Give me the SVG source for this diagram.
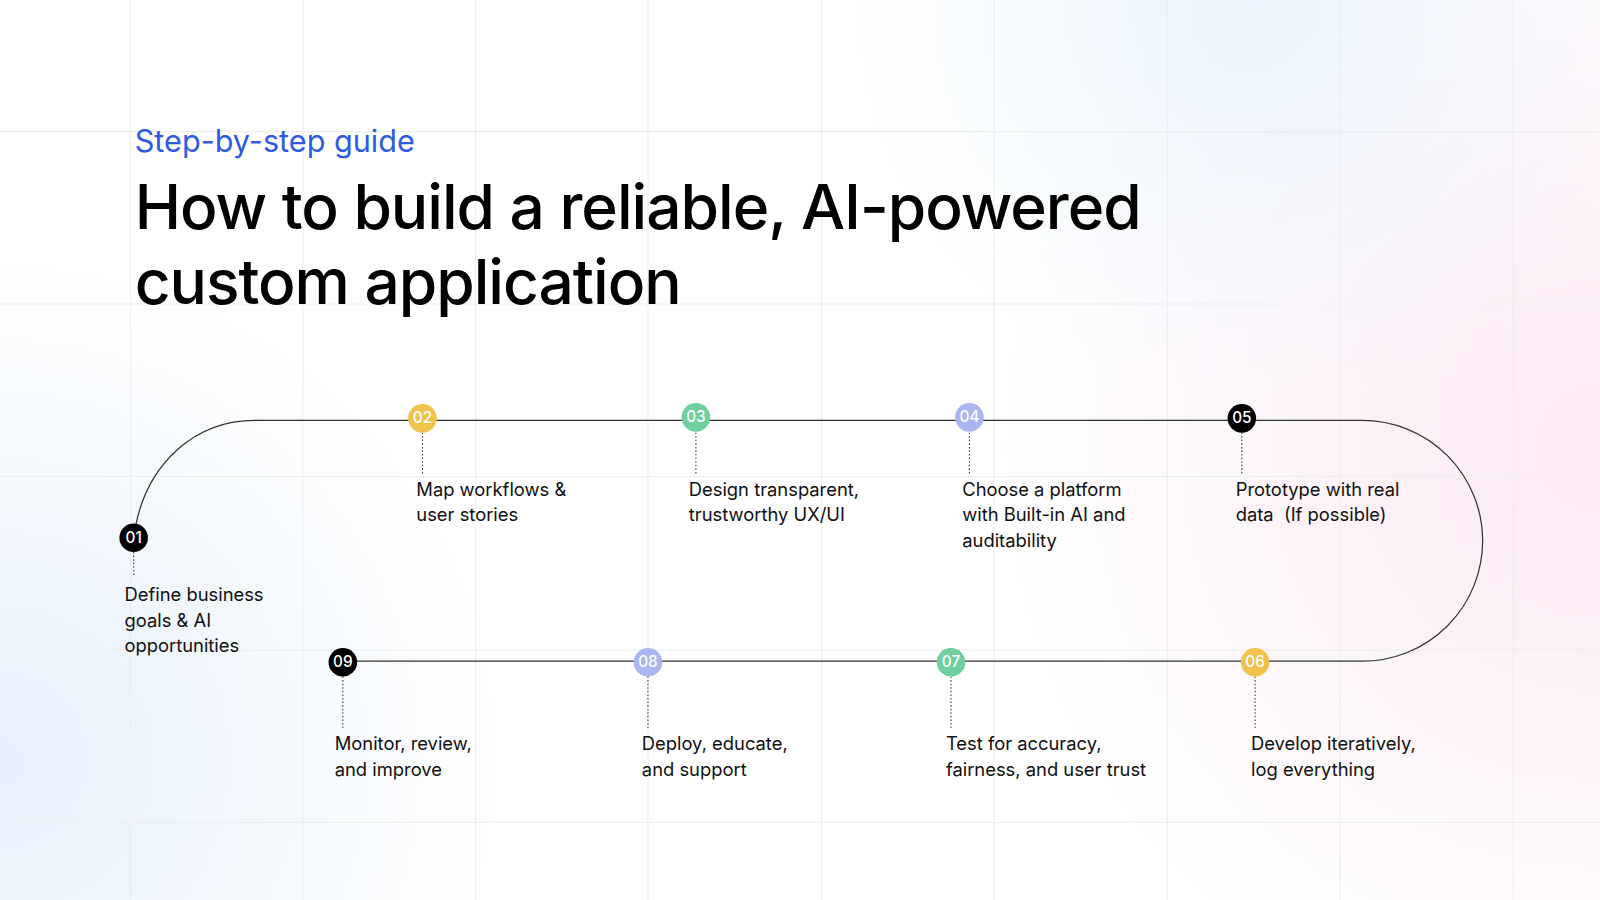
<svg xmlns="http://www.w3.org/2000/svg" width="1600" height="900" viewBox="0 0 1600 900">
<defs>
<radialGradient id="gPink" cx="1600" cy="450" r="600" gradientUnits="userSpaceOnUse"><stop offset="0" stop-color="#fbe9f3"/><stop offset="1" stop-color="#fbe9f3" stop-opacity="0"/></radialGradient>
<radialGradient id="gBlue" cx="0" cy="760" r="500" gradientUnits="userSpaceOnUse"><stop offset="0" stop-color="#e6f0fb"/><stop offset="1" stop-color="#e6f0fb" stop-opacity="0"/></radialGradient>
<radialGradient id="gBlue2" cx="1250" cy="0" r="400" gradientUnits="userSpaceOnUse"><stop offset="0" stop-color="#eaf4fc"/><stop offset="1" stop-color="#eaf4fc" stop-opacity="0"/></radialGradient>
<style>
.grid{stroke:#ebedf0;stroke-width:1}
.path{fill:none;stroke:#333;stroke-width:1.2}
.dot{stroke:#333;stroke-width:1;stroke-dasharray:1.5 2}
.num{font-family:Inter,"Noto Sans",sans-serif;font-size:15px;fill:#fff;text-anchor:middle;font-weight:500}
.lbl{font-family:Inter,"Noto Sans",sans-serif;font-size:18px;fill:#111}
.y{fill:#f1c24d}.g{fill:#6fcf9f}.l{fill:#aab6f2}.k{fill:#000}
</style>
</defs>
<rect width="1600" height="900" fill="#fff"/>
<rect width="1600" height="900" fill="url(#gPink)"/>
<rect width="1600" height="900" fill="url(#gBlue)"/>
<rect width="1600" height="900" fill="url(#gBlue2)"/>
<g transform="scale(1.0204)">
<g id="grid">
<line class="grid" x1="128" y1="0" x2="128" y2="900"/><line class="grid" x1="297" y1="0" x2="297" y2="900"/><line class="grid" x1="466" y1="0" x2="466" y2="900"/><line class="grid" x1="635" y1="0" x2="635" y2="900"/><line class="grid" x1="805" y1="0" x2="805" y2="900"/><line class="grid" x1="974" y1="0" x2="974" y2="900"/><line class="grid" x1="1144" y1="0" x2="1144" y2="900"/><line class="grid" x1="1313" y1="0" x2="1313" y2="900"/><line class="grid" x1="1483" y1="0" x2="1483" y2="900"/>
<line class="grid" x1="0" y1="129" x2="1600" y2="129"/><line class="grid" x1="0" y1="298" x2="1600" y2="298"/><line class="grid" x1="0" y1="467" x2="1600" y2="467"/><line class="grid" x1="0" y1="637" x2="1600" y2="637"/><line class="grid" x1="0" y1="806" x2="1600" y2="806"/>
</g>
<text x="132" y="149" font-family="Inter,'Noto Sans',sans-serif" font-size="30" fill="#2f5be0">Step-by-step guide</text>
<text font-family="Inter,'Noto Sans',sans-serif" font-size="61" fill="#000" font-weight="500" letter-spacing="-1"><tspan x="132" y="224">How to build a reliable, AI-powered</tspan><tspan x="132" y="298">custom application</tspan></text>
<g id="connectors">
<path class="path" d="M133,515 C145,455 190,412 250,412 L1335,412 A118,118 0 0 1 1335,648 L336,648"/>
<line class="dot" x1="131" y1="541" x2="131" y2="565"/>
<line class="dot" x1="414" y1="424" x2="414" y2="466"/>
<line class="dot" x1="682" y1="424" x2="682" y2="466"/>
<line class="dot" x1="950" y1="424" x2="950" y2="466"/>
<line class="dot" x1="1217" y1="424" x2="1217" y2="466"/>
<line class="dot" x1="1230" y1="663" x2="1230" y2="714"/>
<line class="dot" x1="932" y1="663" x2="932" y2="714"/>
<line class="dot" x1="635" y1="663" x2="635" y2="714"/>
<line class="dot" x1="336" y1="663" x2="336" y2="714"/>
</g>
<g id="s01"><circle class="k" cx="131" cy="527" r="14"/><text class="num" x="131" y="532">01</text><text class="lbl"><tspan x="122" y="589">Define business</tspan><tspan x="122" y="614">goals &amp; AI</tspan><tspan x="122" y="639">opportunities</tspan></text></g>
<g id="s02"><circle class="y" cx="414" cy="410" r="14"/><text class="num" x="414" y="415">02</text><text class="lbl"><tspan x="408" y="486">Map workflows &amp;</tspan><tspan x="408" y="511">user stories</tspan></text></g>
<g id="s03"><circle class="g" cx="682" cy="409" r="14"/><text class="num" x="682" y="414">03</text><text class="lbl"><tspan x="675" y="486">Design transparent,</tspan><tspan x="675" y="511">trustworthy UX/UI</tspan></text></g>
<g id="s04"><circle class="l" cx="950" cy="409" r="14"/><text class="num" x="950" y="414">04</text><text class="lbl"><tspan x="943" y="486">Choose a platform</tspan><tspan x="943" y="511">with Built-in AI and</tspan><tspan x="943" y="536">auditability</tspan></text></g>
<g id="s05"><circle class="k" cx="1217" cy="410" r="14"/><text class="num" x="1217" y="415">05</text><text class="lbl"><tspan x="1211" y="486">Prototype with real</tspan><tspan x="1211" y="511" xml:space="preserve">data  (If possible)</tspan></text></g>
<g id="s06"><circle class="y" cx="1230" cy="649" r="14"/><text class="num" x="1230" y="654">06</text><text class="lbl"><tspan x="1226" y="735">Develop iteratively,</tspan><tspan x="1226" y="760">log everything</tspan></text></g>
<g id="s07"><circle class="g" cx="932" cy="649" r="14"/><text class="num" x="932" y="654">07</text><text class="lbl"><tspan x="927" y="735">Test for accuracy,</tspan><tspan x="927" y="760">fairness, and user trust</tspan></text></g>
<g id="s08"><circle class="l" cx="635" cy="649" r="14"/><text class="num" x="635" y="654">08</text><text class="lbl"><tspan x="629" y="735">Deploy, educate,</tspan><tspan x="629" y="760">and support</tspan></text></g>
<g id="s09"><circle class="k" cx="336" cy="649" r="14"/><text class="num" x="336" y="654">09</text><text class="lbl"><tspan x="328" y="735">Monitor, review,</tspan><tspan x="328" y="760">and improve</tspan></text></g>
</g>
</svg>
